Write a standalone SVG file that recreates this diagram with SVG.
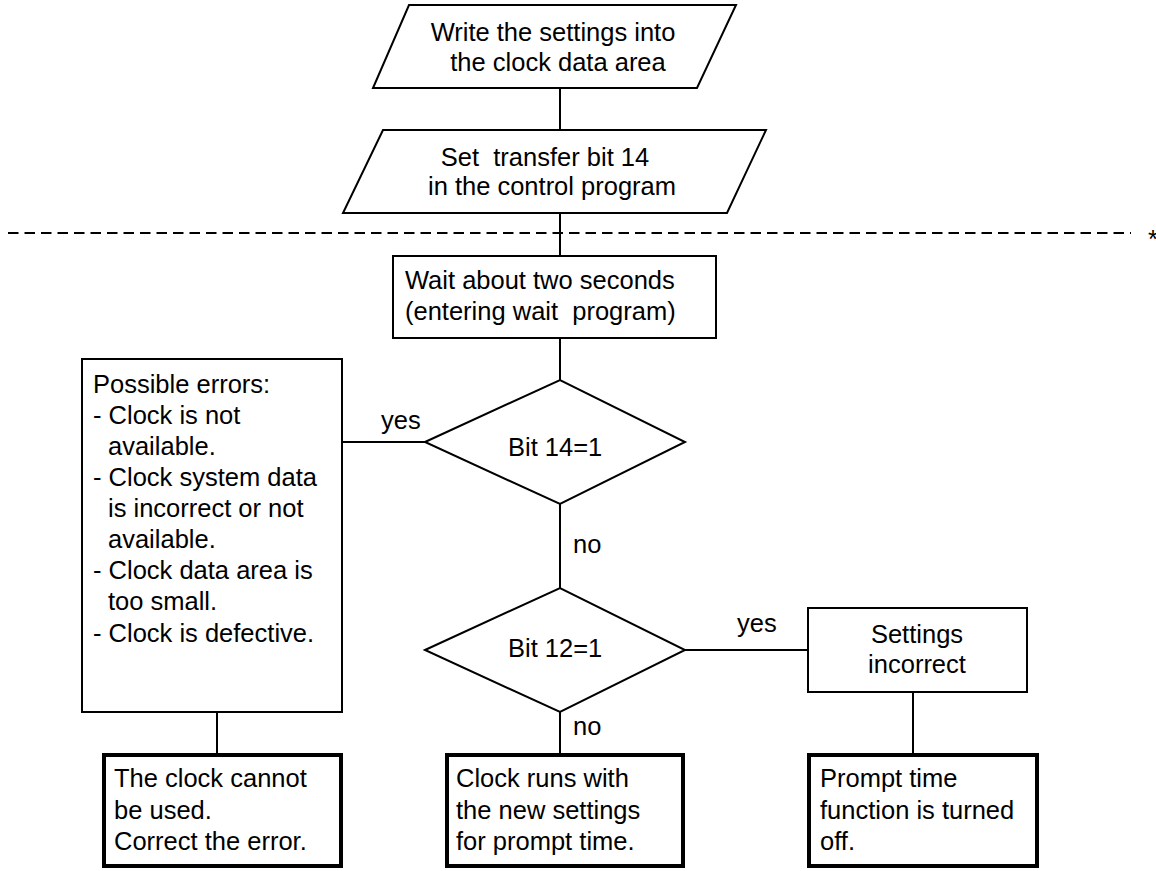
<svg xmlns="http://www.w3.org/2000/svg" width="1156" height="871" viewBox="0 0 1156 871">
<style>
text{font-family:"Liberation Sans",Arial,sans-serif;font-size:25.5px;fill:#000;white-space:pre}
.c{text-anchor:middle}
.s{fill:none;stroke:#000;stroke-width:2}
.t{fill:none;stroke:#000;stroke-width:4}
.ln{stroke:#000;stroke-width:2;fill:none}
</style>
<rect width="1156" height="871" fill="#fff"/>
<g id="connectors">
<path class="ln" d="M560 88V130M560 213V256M560 338V380M560 504V588M560 712V753M342 442H425M685 650H808M217 712V753M913 692V753"/>
<line x1="8" y1="233" x2="1131" y2="233" stroke="#000" stroke-width="2" stroke-dasharray="10.5 6"/>
<text x="1148" y="248">*</text>
<text x="381" y="429">yes</text>
<text x="573" y="553">no</text>
<text x="737" y="632">yes</text>
<text x="573" y="735">no</text>
</g>
<g id="n1">
<polygon class="s" points="409,5 736,5 697,88 373,88"/>
<text class="c" x="553" y="41">Write the settings into</text>
<text class="c" x="558" y="71">the clock data area</text>
</g>
<g id="n2">
<polygon class="s" points="383,130 766,130 727,213 343,213"/>
<text class="c" x="545" y="166">Set  transfer bit 14</text>
<text class="c" x="552" y="195">in the control program</text>
</g>
<g id="n3">
<rect class="s" x="393" y="256" width="323" height="82"/>
<text x="405" y="289">Wait about two seconds</text>
<text x="405" y="320">(entering wait  program)</text>
</g>
<g id="d1">
<polygon class="s" points="425,442 560,380 685,442 560,504"/>
<text x="508" y="456">Bit 14=1</text>
</g>
<g id="err">
<rect class="s" x="82" y="359" width="260" height="353"/>
<text x="93" y="393">Possible errors:</text>
<text x="93" y="424">- Clock is not</text>
<text x="108" y="455">available.</text>
<text x="93" y="486">- Clock system data</text>
<text x="108" y="517">is incorrect or not</text>
<text x="108" y="548">available.</text>
<text x="93" y="579">- Clock data area is</text>
<text x="108" y="610">too small.</text>
<text x="93" y="642">- Clock is defective.</text>
</g>
<g id="d2">
<polygon class="s" points="425,650 560,588 685,650 560,712"/>
<text x="508" y="657">Bit 12=1</text>
</g>
<g id="set">
<rect class="s" x="808" y="608" width="219" height="84"/>
<text class="c" x="917" y="643">Settings</text>
<text class="c" x="917" y="673">incorrect</text>
</g>
<g id="b1">
<rect class="t" x="104" y="755" width="237" height="111"/>
<text x="114" y="787">The clock cannot</text>
<text x="114" y="819">be used.</text>
<text x="114" y="850">Correct the error.</text>
</g>
<g id="b2">
<rect class="t" x="447" y="755" width="236" height="111"/>
<text x="456" y="787">Clock runs with</text>
<text x="456" y="819">the new settings</text>
<text x="456" y="850">for prompt time.</text>
</g>
<g id="b3">
<rect class="t" x="809" y="755" width="228" height="111"/>
<text x="820" y="787">Prompt time</text>
<text x="820" y="819">function is turned</text>
<text x="820" y="850">off.</text>
</g>
</svg>
